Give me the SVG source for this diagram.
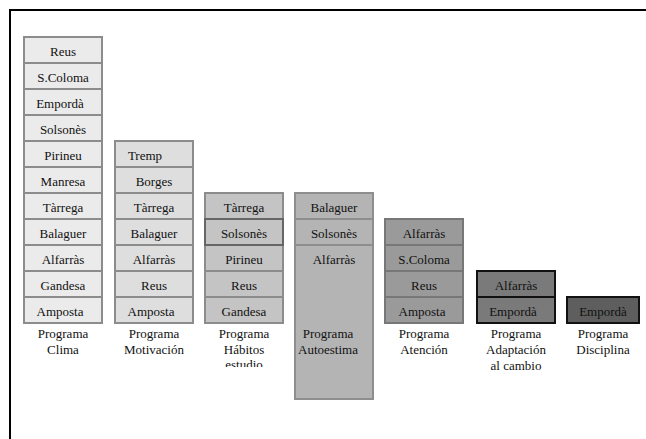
<svg xmlns="http://www.w3.org/2000/svg" width="646" height="439" viewBox="0 0 646 439">
<defs>
<style>
text{font-family:"Liberation Serif","Times New Roman",serif;font-size:13px;fill:#111;text-anchor:middle}
.c1{fill:#ebebeb;stroke:#8c8c8c;stroke-width:2}
.c2{fill:#dedede;stroke:#8c8c8c;stroke-width:2}
.c3{fill:#c4c4c4;stroke:#8c8c8c;stroke-width:2}
.c3d{fill:#c4c4c4;stroke:#666;stroke-width:2}
.c4{fill:#b4b4b4;stroke:#8e8e8e;stroke-width:2}
.c5{fill:#9a9a9a;stroke:#777;stroke-width:2}
.c6{fill:#7a7a7a;stroke:#111;stroke-width:2}
.c7{fill:#5e5e5e;stroke:#111;stroke-width:2}
</style>
<clipPath id="clipEst"><rect x="200" y="325" width="90" height="42"/></clipPath>
</defs>
<rect x="10" y="10" width="700" height="500" fill="#fff" stroke="#000" stroke-width="2"/>
<g id="connectors"/>
<g id="clima">
<rect class="c1" x="24" y="37" width="78" height="26"/><text x="63" y="55.5">Reus</text>
<rect class="c1" x="24" y="63" width="78" height="26"/><text x="63" y="81.5">S.Coloma</text>
<rect class="c1" x="24" y="89" width="78" height="26"/><text x="60" y="107.5">Empordà</text>
<rect class="c1" x="24" y="115" width="78" height="26"/><text x="63" y="133.5">Solsonès</text>
<rect class="c1" x="24" y="141" width="78" height="26"/><text x="63" y="159.5">Pirineu</text>
<rect class="c1" x="24" y="167" width="78" height="26"/><text x="63" y="185.5">Manresa</text>
<rect class="c1" x="24" y="193" width="78" height="26"/><text x="63" y="211.5">Tàrrega</text>
<rect class="c1" x="24" y="219" width="78" height="26"/><text x="63" y="237.5">Balaguer</text>
<rect class="c1" x="24" y="245" width="78" height="26"/><text x="63" y="263.5">Alfarràs</text>
<rect class="c1" x="24" y="271" width="78" height="26"/><text x="63" y="289.5">Gandesa</text>
<rect class="c1" x="24" y="297" width="78" height="26"/><text x="60" y="315.5">Amposta</text>
<text x="63" y="338">Programa</text><text x="63" y="354">Clima</text>
</g>
<g id="motivacion">
<rect class="c2" x="115" y="141" width="78" height="26"/><text x="145" y="159.5">Tremp</text>
<rect class="c2" x="115" y="167" width="78" height="26"/><text x="154" y="185.5">Borges</text>
<rect class="c2" x="115" y="193" width="78" height="26"/><text x="154" y="211.5">Tàrrega</text>
<rect class="c2" x="115" y="219" width="78" height="26"/><text x="154" y="237.5">Balaguer</text>
<rect class="c2" x="115" y="245" width="78" height="26"/><text x="154" y="263.5">Alfarràs</text>
<rect class="c2" x="115" y="271" width="78" height="26"/><text x="154" y="289.5">Reus</text>
<rect class="c2" x="115" y="297" width="78" height="26"/><text x="151" y="315.5">Amposta</text>
<text x="154" y="338">Programa</text><text x="154" y="354">Motivación</text>
</g>
<g id="habitos">
<rect class="c3" x="205" y="193" width="78" height="26"/><text x="244" y="211.5">Tàrrega</text>
<rect class="c3" x="205" y="245" width="78" height="26"/><text x="244" y="263.5">Pirineu</text>
<rect class="c3" x="205" y="271" width="78" height="26"/><text x="244" y="289.5">Reus</text>
<rect class="c3" x="205" y="297" width="78" height="26"/><text x="244" y="315.5">Gandesa</text>
<rect class="c3d" x="205" y="219" width="78" height="26"/><text x="244" y="237.5">Solsonès</text>
<text x="244" y="338">Programa</text><text x="244" y="354">Hábitos</text>
<text x="244" y="369" clip-path="url(#clipEst)">estudio</text>
</g>
<g id="autoestima">
<rect class="c4" x="295" y="193" width="78" height="26"/><text x="334" y="211.5">Balaguer</text>
<rect class="c4" x="295" y="219" width="78" height="26"/><text x="334" y="237.5">Solsonès</text>
<rect class="c4" x="295" y="245" width="78" height="154"/><text x="334" y="263.5">Alfarràs</text>
<text x="328" y="338">Programa</text><text x="328" y="354">Autoestima</text>
</g>
<g id="atencion">
<rect class="c5" x="385" y="219" width="78" height="26"/><text x="424" y="237.5">Alfarràs</text>
<rect class="c5" x="385" y="245" width="78" height="26"/><text x="424" y="263.5">S.Coloma</text>
<rect class="c5" x="385" y="271" width="78" height="26"/><text x="424" y="289.5">Reus</text>
<rect class="c5" x="385" y="297" width="78" height="26"/><text x="422" y="315.5">Amposta</text>
<text x="424" y="338">Programa</text><text x="424" y="354">Atención</text>
</g>
<g id="adaptacion">
<rect class="c6" x="477" y="271" width="78" height="26"/><text x="516" y="289.5">Alfarràs</text>
<rect class="c6" x="477" y="297" width="78" height="26"/><text x="513" y="315.5">Empordà</text>
<text x="516" y="338">Programa</text><text x="516" y="354">Adaptación</text><text x="516" y="370">al cambio</text>
</g>
<g id="disciplina">
<rect class="c7" x="567" y="297" width="72" height="26"/><text x="603" y="315.5">Empordà</text>
<text x="603" y="338">Programa</text><text x="603" y="354">Disciplina</text>
</g>
</svg>
